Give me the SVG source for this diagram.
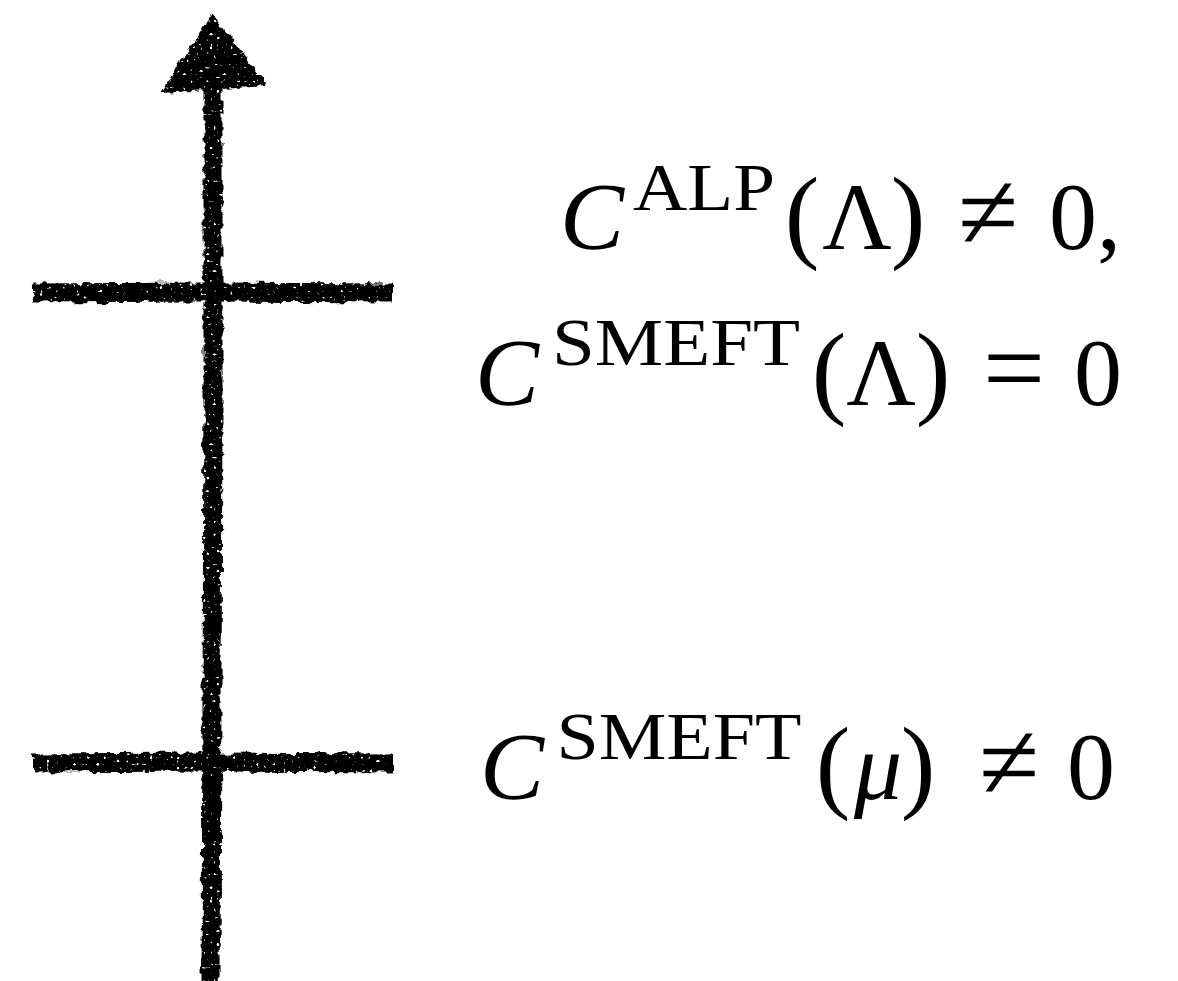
<svg xmlns="http://www.w3.org/2000/svg" width="1178" height="981" viewBox="0 0 1178 981">
  <style>
    .math { font-family: "Liberation Serif", "DejaVu Serif", serif; font-size: 96px; fill: #000; text-anchor: middle; }
    .it { font-style: italic; }
    .sup { font-size: 68px; }
    .paren { font-size: 104px; }
    .op { font-size: 110px; }
    .stroke { stroke: #000; stroke-width: 19; fill: none; stroke-linecap: butt; }
    .ink { fill: #000; }
    .rough { filter: url(#rough); }
  </style>
  <defs>
    <filter id="rough" filterUnits="userSpaceOnUse" x="0" y="0" width="1178" height="981" color-interpolation-filters="sRGB">
      <feTurbulence type="fractalNoise" baseFrequency="0.12" numOctaves="2" seed="3" result="n"/>
      <feDisplacementMap in="SourceGraphic" in2="n" scale="8" xChannelSelector="R" yChannelSelector="G" result="d"/>
      <feTurbulence type="fractalNoise" baseFrequency="0.3" numOctaves="1" seed="11" result="h"/>
      <feColorMatrix in="h" type="matrix" values="0 0 0 0 1  0 0 0 0 1  0 0 0 0 1  14 0 0 0 -9.4" result="holes"/>
      <feComposite in="d" in2="holes" operator="out"/>
    </filter>
  </defs>
  <rect width="1178" height="981" fill="#fff"/>

  <g id="connectors" class="rough">
    <path class="stroke" d="M211 985 L212 700 L213 400 L213 88"/>
    <polygon class="ink" points="212,13 161,93 268,86"/>
  </g>

  <g id="scale-Lambda">
    <path class="stroke rough" d="M33 293 L200 292 L393 293"/>
    <text class="math"><tspan class="it" x="592" y="249">C</tspan><tspan class="sup" x="704" y="210" textLength="142" lengthAdjust="spacingAndGlyphs">ALP</tspan><tspan class="paren" x="802" y="249">(</tspan><tspan x="857" y="249">Λ</tspan><tspan class="paren" x="908" y="249">)</tspan><tspan class="op" x="988" y="249">≠</tspan><tspan x="1073" y="249">0</tspan><tspan x="1109" y="249">,</tspan></text>
    <text class="math"><tspan class="it" x="507" y="405">C</tspan><tspan class="sup" x="676" y="365" textLength="248" lengthAdjust="spacingAndGlyphs">SMEFT</tspan><tspan class="paren" x="829" y="405">(</tspan><tspan x="881" y="405">Λ</tspan><tspan class="paren" x="933" y="405">)</tspan><tspan class="op" x="1014" y="405">=</tspan><tspan x="1098" y="405">0</tspan></text>
  </g>

  <g id="scale-mu">
    <path class="stroke rough" d="M33 763 L200 762 L393 763"/>
    <text class="math"><tspan class="it" x="512" y="799">C</tspan><tspan class="sup" x="679" y="759" textLength="245" lengthAdjust="spacingAndGlyphs">SMEFT</tspan><tspan class="paren" x="833" y="799">(</tspan><tspan class="it" x="878" y="799">μ</tspan><tspan class="paren" x="918" y="799">)</tspan><tspan class="op" x="1009" y="799">≠</tspan><tspan x="1091" y="799">0</tspan></text>
  </g>
</svg>
